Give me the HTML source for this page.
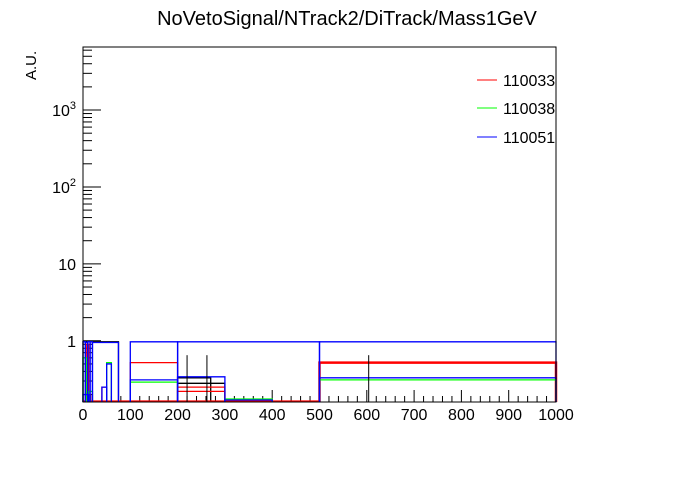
<!DOCTYPE html>
<html><head><meta charset="utf-8"><style>
body{margin:0;background:#fff}
svg text{font-family:"Liberation Sans",sans-serif}
</style></head><body>
<svg id="c" width="696" height="472" xmlns="http://www.w3.org/2000/svg">
<rect width="696" height="472" fill="#fff"/>
<text x="347" y="25" font-size="20" text-anchor="middle">NoVetoSignal/NTrack2/DiTrack/Mass1GeV</text>
<text transform="translate(36,80) rotate(-90)" font-size="15">A.U.</text>
<g id="axes"></g>
<g id="marks"></g>
<rect x="83" y="47" width="473" height="355" fill="none" stroke="#000"/>
<g>
<line x1="477" y1="80" x2="497" y2="80" stroke="#f00"/><text x="503" y="86" font-size="16">110033</text>
<line x1="477" y1="108" x2="497" y2="108" stroke="#0f0"/><text x="503" y="114" font-size="16">110038</text>
<line x1="477" y1="137" x2="497" y2="137" stroke="#00f"/><text x="503" y="143" font-size="16">110051</text>
</g>
</svg>
<script>
const xTicks=[0,100,200,300,400,500,600,700,800,900,1000];
const yDecades=[1,10,100,1000];
const yLabels=["1","10","10^2","10^3"];
// boxes: [x0,x1,value]
const redBins=[[100,200,0.52],[200,300,0.25],[200,300,0.22],[500,1000,0.52],[0,500,0.165],[40,50,0.25],[8,12,0.9],[12,16,0.2]];
const greenBins=[[100,200,0.29],[300,400,0.175],[500,1000,0.31],[50,60,0.52],[12,20,0.22],[0,8,0.6]];
const blackBins=[[0,75,0.97],[200,270,0.33],[200,300,0.28],[300,400,0.17]];
const blueBins=[[0,5,0.97],[5,10,0.95],[10,15,0.97],[15,20,0.97],[20,75,0.95],[100,200,0.97],[200,500,0.97],[500,1000,0.97],[100,200,0.31],[200,300,0.34],[300,400,0.17],[500,1000,0.33],[50,60,0.5],[40,50,0.25],[0,12,0.2]];
const errX=[220,262,604];
const errV=[0.65,0.65,0.65];
const X0=83,X1=556,YB=402,YT=47;
const LMIN=Math.log10(0.16),LMAX=Math.log10(6600);
const sx=v=>X0+(v-0)/(1000-0)*(X1-X0);
const sy=v=>YB-(Math.log10(v)-LMIN)/(LMAX-LMIN)*(YB-YT);
const NS="http://www.w3.org/2000/svg";
function mk(t,a,p){const e=document.createElementNS(NS,t);for(const k in a)e.setAttribute(k,a[k]);p.appendChild(e);return e;}
const ax=document.getElementById('axes'),mg=document.getElementById('marks');
for(let v=0;v<=1000;v+=20){const big=v%100===0;const l=mk('line',{x1:sx(v),x2:sx(v),y1:YB,y2:YB-(big?12:6),stroke:'#000'},ax);

}
xTicks.forEach(v=>{const t=mk('text',{x:sx(v),y:YB+18,'font-size':16,'text-anchor':'middle'},ax);t.textContent=v;

});
for(let d=0.1;d<=1000;d*=10){for(let m=1;m<10;m++){const v=d*m;if(v<0.16||v>6600)continue;const y=sy(v);
const l=mk('line',{x1:X0,x2:X0+(m===1?18:9),y1:y,y2:y,stroke:'#000'},ax);

}}
yDecades.forEach((v,i)=>{const y=sy(v);const t=mk('text',{x:76,y:y+6,'font-size':16,'text-anchor':'end'},ax);


const s=yLabels[i];if(s.includes('^')){const [b,e]=s.split('^');t.textContent=b;const ts=mk('tspan',{dy:-7,'font-size':11},t);ts.textContent=e;}else t.textContent=s;});
function boxes(arr,col,name){arr.forEach(b=>{const x0=sx(b[0]),x1=sx(b[1]),y=sy(b[2]);
const p=mk('path',{d:`M${x0},${YB}V${y}H${x1}V${YB}`,fill:'none',stroke:col,'stroke-width':(col==='#f00'&&b[0]===500)?2.5:1.3},mg);

});}
boxes(blackBins,'#000','black-hist-bin');
boxes(redBins,'#f00','red-hist-bin');
boxes(greenBins,'#0f0','green-hist-bin');
boxes(blueBins,'#00f','blue-hist-bin');
errX.forEach((x,i)=>{const l=mk('line',{x1:sx(x),x2:sx(x),y1:sy(errV[i]),y2:YB,stroke:'#000'},mg);

});
</script>
</body></html>
